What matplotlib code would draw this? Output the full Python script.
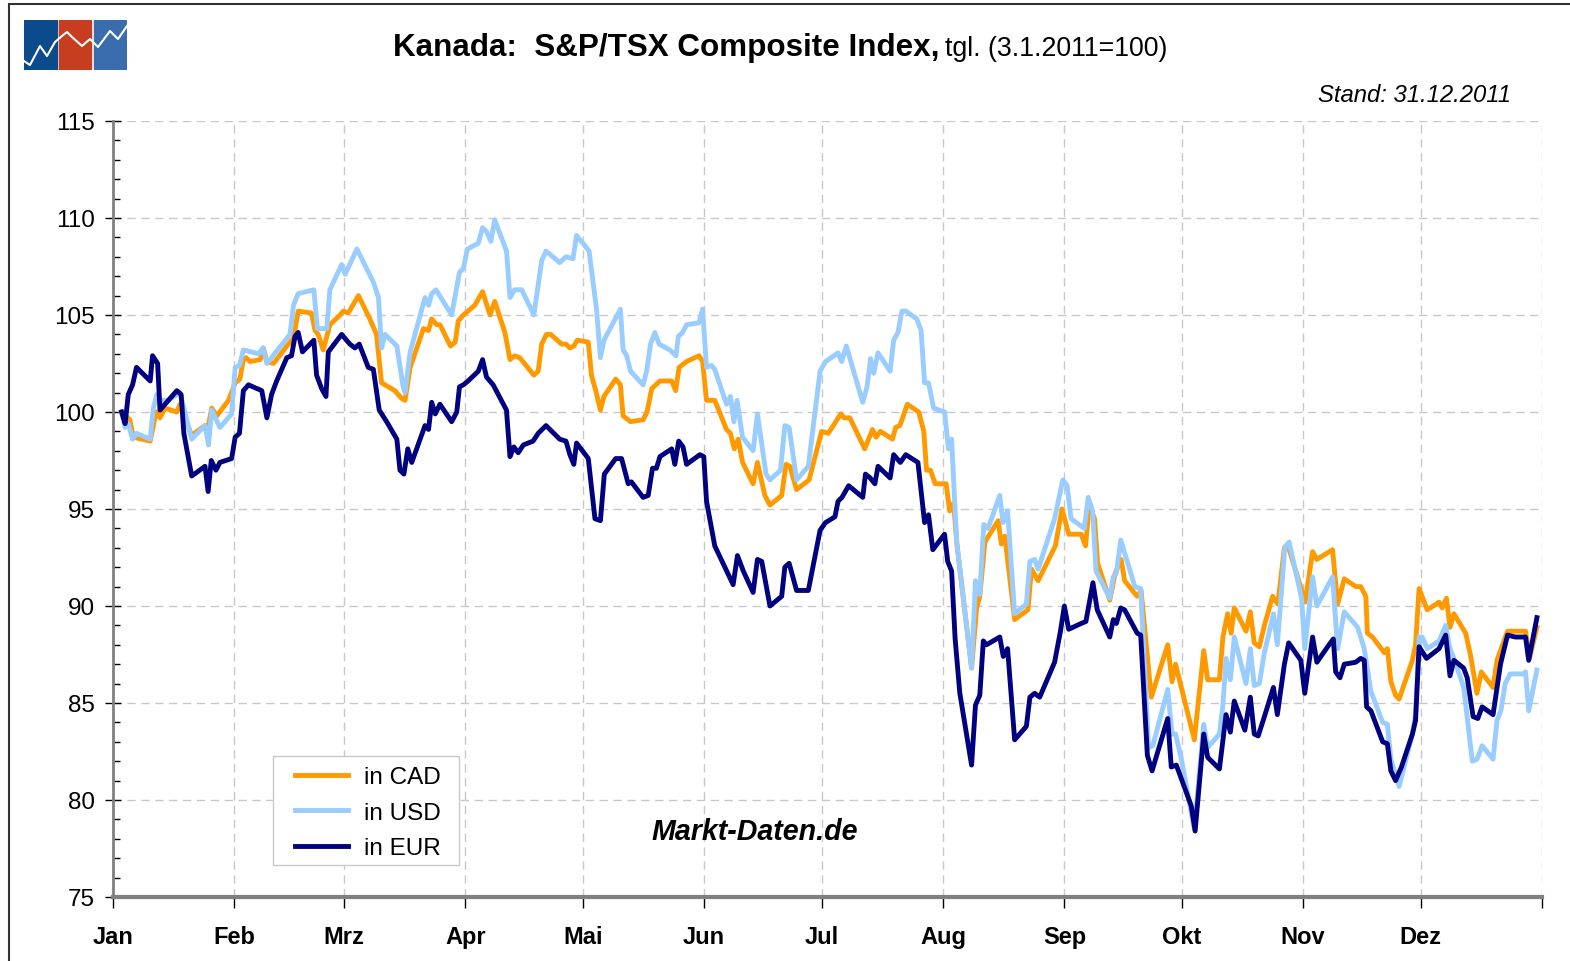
import matplotlib
matplotlib.use('Agg')
import matplotlib.pyplot as plt
from matplotlib.patches import Rectangle
from matplotlib.ticker import MultipleLocator

plt.rcParams['font.family'] = ['Liberation Sans', 'DejaVu Sans']

# Monate (Tag im Jahr, an dem der Monat beginnt)
monat_start = [0, 31, 59, 90, 120, 151, 181, 212, 243, 273, 304, 334, 365]
monat_namen = ['Jan', 'Feb', 'Mrz', 'Apr', 'Mai', 'Jun', 'Jul', 'Aug', 'Sep', 'Okt', 'Nov', 'Dez']

# S&P/TSX in CAD (Tag im Jahr, Index 3.1.2011=100)
cad_tag = [2.2, 4.3, 5.2, 9.5, 11.0, 12.0, 13.3, 16.3, 17.1, 18.1, 20.1, 23.5, 24.2, 25.2, 26.5, 29.5,
           31.2, 32.4, 33.3, 34.0, 35.0, 37.6, 38.4, 39.3, 41.0, 44.4, 46.1, 47.3, 50.7, 51.6, 52.4,
           53.7, 55.4, 58.0, 58.8, 60.1, 62.7, 65.6, 67.3, 68.6, 72.0, 73.7, 74.6, 75.9, 79.3, 80.6,
           81.4, 82.7, 83.5, 86.2, 87.4, 88.2, 89.5, 90.7, 92.4, 94.4, 96.3, 97.5, 100.1, 101.4, 102.6,
           103.9, 107.5, 108.6, 109.5, 110.7, 111.8, 114.6, 115.7, 116.7, 117.7, 118.6, 121.4, 122.2,
           123.3, 124.5, 125.4, 128.4, 129.6, 130.3, 132.2, 135.4, 136.4, 137.6, 139.7, 142.7, 143.7,
           144.6, 146.5, 149.7, 150.6, 151.6, 153.7, 156.7, 157.7, 158.7, 159.7, 160.8, 163.5, 164.6,
           166.5, 167.8, 170.8, 171.9, 172.9, 174.6, 177.8, 181.0, 182.7, 185.9, 186.7, 188.2, 192.0,
           194.0, 194.9, 196.0, 199.1, 199.9, 201.0, 202.9, 205.8, 207.1, 207.8, 208.8, 210.0, 212.8,
           213.7, 214.7, 215.6, 219.3, 220.6, 221.4, 222.7, 226.1, 226.9, 227.8, 230.3, 233.7, 234.6,
           236.3, 240.7, 242.4, 244.1, 247.3, 248.4, 249.4, 250.7, 251.5, 254.6, 256.0, 257.5, 258.4,
           261.6, 262.6, 265.2, 269.4, 270.5, 271.4, 276.2, 278.6, 279.6, 282.6, 283.5, 284.7, 285.6,
           286.4, 289.4, 290.5, 291.5, 292.8, 294.1, 296.2, 297.5, 299.2, 300.0, 303.0, 304.5, 306.4,
           307.5, 311.5, 312.8, 314.5, 317.4, 318.7, 320.0, 320.4, 321.7, 324.7, 325.5, 326.4, 327.6,
           328.5, 331.9, 332.7, 333.6, 335.7, 338.7, 339.5, 340.6, 341.5, 342.5, 345.5, 346.7, 348.4,
           349.5, 352.5, 353.5, 356.2, 360.8, 361.8, 363.7]
cad_wert = [100.0, 99.6, 98.7, 98.5, 100.0, 99.7, 100.2, 100.0, 100.4, 99.8, 98.8, 99.3, 99.1, 100.2, 99.8, 100.6,
            101.5, 101.7, 102.7, 102.8, 102.6, 102.7, 103.3, 102.6, 102.5, 103.4, 103.8, 105.2, 105.1, 104.2, 104.0,
            103.2, 104.5, 105.0, 105.2, 105.1, 106.0, 104.8, 104.0, 101.5, 101.1, 100.7, 100.6, 102.3, 104.3, 104.2,
            104.8, 104.5, 104.5, 103.4, 103.6, 104.7, 105.0, 105.2, 105.5, 106.2, 105.0, 105.7, 104.1, 102.7, 102.9,
            102.8, 101.9, 102.1, 103.5, 104.0, 104.0, 103.5, 103.5, 103.3, 103.4, 103.7, 103.6, 101.9,
            101.1, 100.1, 100.8, 101.7, 101.4, 99.8, 99.5, 99.6, 100.0, 101.2, 101.6, 101.6, 101.1,
            102.3, 102.6, 102.9, 102.6, 100.6, 100.6, 99.1, 98.9, 98.1, 98.6, 97.4, 96.3, 97.4,
            95.7, 95.2, 95.7, 97.3, 97.2, 96.0, 96.5, 99.0, 98.9, 99.9, 99.7, 99.7, 98.1,
            99.1, 98.7, 99.0, 98.6, 99.2, 99.3, 100.4, 100.0, 99.0, 97.0, 97.0, 96.3, 96.3,
            94.9, 95.3, 93.1, 86.8, 89.9, 90.5, 93.3, 94.4, 93.2, 93.6, 89.3, 89.8, 91.9,
            91.3, 93.1, 95.0, 93.7, 93.7, 93.1, 95.2, 94.5, 92.2, 90.3, 91.7, 92.4, 91.3,
            90.5, 90.8, 85.3, 88.0, 86.1, 87.0, 83.1, 87.7, 86.2, 86.2, 88.4, 89.6, 88.6,
            89.9, 88.7, 89.7, 88.1, 87.9, 89.0, 90.5, 90.1, 93.0, 93.2, 91.2, 90.2, 92.8,
            92.4, 92.9, 90.1, 91.4, 91.0, 91.0, 90.5, 88.6, 88.4, 87.6, 87.8, 86.1, 85.4,
            85.2, 87.2, 88.0, 90.9, 89.8, 90.2, 89.9, 90.4, 88.9, 89.6, 88.6, 87.5, 85.5,
            86.6, 85.8, 87.2, 88.7, 88.7, 87.3, 88.9]

# S&P/TSX in USD
usd_tag = [2.2, 3.1, 3.9, 5.0, 6.0, 9.5, 10.3, 11.2, 12.2, 14.1, 17.1, 18.1, 20.1, 23.5, 24.4, 25.2, 27.3,
           30.3, 31.2, 32.3, 33.3, 37.2, 38.3, 39.3, 45.2, 46.1, 47.3, 51.3, 52.2, 54.6, 55.4, 58.4,
           59.3, 62.3, 66.5, 67.8, 68.6, 69.5, 72.5, 74.1, 74.6, 75.9, 79.7, 80.6, 81.4, 82.5, 86.5,
           88.5, 89.5, 90.5, 93.3, 94.4, 95.4, 96.5, 97.5, 100.5, 101.4, 102.6, 104.4, 107.5, 109.5,
           110.6, 114.1, 115.7, 117.5, 118.4, 121.6, 123.5, 124.5, 125.4, 129.6, 130.3, 131.2, 132.2,
           135.4, 136.3, 137.3, 138.4, 139.5, 142.2, 143.8, 144.4, 145.5, 146.5, 149.7, 150.6, 151.6,
           152.9, 153.7, 156.7, 157.7, 158.6, 159.4, 160.8, 163.5, 164.6, 166.8, 167.8, 170.5, 171.6,
           172.7, 174.6, 177.6, 180.6, 182.0, 185.2, 186.1, 187.3, 191.5, 192.6, 193.5, 194.3, 195.4,
           198.5, 199.4, 200.5, 201.5, 202.5, 205.3, 206.4, 207.3, 208.3, 209.6, 212.4, 213.4, 214.2,
           215.5, 219.3, 220.3, 221.4, 222.4, 223.5, 226.5, 227.3, 228.5, 230.3, 233.3, 234.2, 235.4,
           236.3, 240.5, 242.6, 243.7, 244.7, 248.1, 249.1, 250.2, 251.1, 254.6, 255.5, 256.3, 257.4,
           261.0, 262.5, 264.5, 265.6, 269.4, 270.5, 271.4, 272.8, 276.2, 278.6, 279.6, 282.6, 283.5,
           284.3, 285.4, 286.4, 289.4, 290.5, 291.5, 292.8, 294.1, 296.4, 297.4, 299.3, 300.4, 303.6,
           304.4, 306.4, 307.5, 311.5, 312.8, 314.5, 317.9, 319.6, 321.3, 324.3, 325.5, 326.4, 328.5,
           331.9, 332.7, 333.6, 334.4, 335.7, 338.7, 340.4, 341.5, 342.5, 345.0, 347.2, 348.4, 349.7,
           352.5, 353.5, 354.5, 355.6, 356.9, 360.3, 360.8, 361.6, 363.7]
usd_wert = [100.0, 99.2, 99.4, 98.6, 98.9, 98.6, 100.2, 100.9, 100.6, 100.6, 101.0, 100.2, 98.6, 99.3, 98.3, 100.1, 99.2,
            99.9, 102.3, 102.4, 103.2, 103.0, 103.3, 102.5, 104.0, 105.5, 106.1, 106.3, 104.3, 104.3, 106.3, 107.6,
            107.1, 108.4, 106.7, 105.9, 103.3, 104.0, 103.4, 101.3, 101.0, 103.1, 105.9, 105.5, 106.1, 106.3, 105.0,
            107.2, 107.4, 108.4, 108.7, 109.5, 109.3, 108.8, 109.9, 108.3, 105.9, 106.3, 106.3, 105.0, 107.8,
            108.3, 107.7, 108.0, 107.9, 109.1, 108.3, 105.3, 102.8, 103.7, 105.3, 103.2, 102.9, 102.1,
            101.4, 102.1, 103.5, 104.1, 103.5, 103.2, 102.9, 103.9, 104.1, 104.5, 104.6, 105.3, 102.3,
            102.4, 102.2, 100.4, 100.8, 99.5, 100.6, 98.7, 98.0, 99.9, 96.8, 96.5, 97.0, 99.3,
            99.2, 96.5, 97.2, 102.1, 102.6, 103.05, 102.6, 103.4, 100.5, 101.3, 102.75, 102.0, 103.05,
            102.1, 103.7, 104.1, 105.2, 105.2, 104.8, 104.2, 101.5, 101.5, 100.2, 100.0, 98.1, 98.6,
            93.3, 86.8, 91.3, 90.6, 94.2, 94.0, 95.7, 94.3, 94.9, 89.6, 90.1, 92.3, 92.4,
            91.9, 94.5, 96.5, 96.2, 94.5, 94.0, 95.6, 94.9, 91.8, 90.4, 91.5, 91.7, 93.4,
            91.0, 90.9, 82.7, 82.8, 85.7, 83.4, 83.4, 82.2, 78.5, 83.9, 82.7, 83.4, 84.9,
            87.3, 86.2, 88.4, 86.0, 87.8, 85.9, 86.0, 87.6, 89.6, 88.0, 93.0, 93.3, 90.4,
            87.8, 91.5, 90.0, 91.5, 87.8, 89.7, 88.9, 87.8, 85.6, 84.0, 83.9, 82.1, 80.7,
            83.4, 84.4, 88.4, 88.4, 87.8, 88.2, 89.0, 87.8, 87.3, 85.8, 82.0, 82.1, 82.8,
            82.1, 84.1, 84.6, 86.0, 86.5, 86.5, 86.6, 84.6, 86.7]

# S&P/TSX in EUR
eur_tag = [2.2, 3.1, 3.9, 5.0, 6.0, 9.5, 10.1, 11.4, 12.0, 16.3, 17.4, 18.1, 20.1, 23.5, 24.3, 25.1, 26.3,
           27.3, 30.3, 31.2, 32.3, 33.3, 34.6, 38.0, 39.3, 40.5, 41.8, 44.4, 45.6, 46.5, 47.3, 48.4,
           51.3, 52.0, 53.3, 54.4, 55.0, 58.4, 60.5, 61.8, 62.9, 65.2, 66.5, 68.0, 69.9, 72.5, 73.3,
           74.3, 75.3, 76.3, 79.7, 80.6, 81.4, 82.3, 83.5, 86.5, 87.8, 88.5, 89.5, 90.7, 93.3, 94.4,
           95.4, 97.1, 100.5, 101.4, 102.4, 103.5, 104.8, 107.3, 108.6, 110.6, 114.1, 115.7, 116.7,
           117.7, 118.4, 121.4, 123.1, 124.5, 125.5, 128.4, 129.9, 131.6, 132.4, 135.4, 136.7, 137.8,
           138.8, 139.7, 142.7, 143.5, 144.5, 145.6, 146.5, 149.9, 150.9, 151.6, 153.7, 158.4, 159.5,
           161.0, 163.5, 164.6, 165.7, 167.8, 170.8, 171.6, 172.7, 174.6, 177.6, 180.6, 182.0, 184.4,
           185.2, 186.2, 187.9, 191.5, 192.2, 193.4, 194.6, 195.4, 198.5, 199.4, 201.1, 202.5, 205.6,
           207.3, 208.3, 209.4, 212.4, 213.2, 214.2, 215.1, 216.3, 219.3, 220.3, 221.4, 222.3, 223.1,
           226.5, 227.4, 228.5, 230.3, 233.3, 234.2, 235.4, 236.7, 240.5, 242.0, 243.0, 244.1, 247.3,
           248.5, 250.3, 251.4, 254.6, 255.5, 256.3, 257.4, 258.4, 261.6, 262.5, 264.2, 265.4, 269.4,
           270.3, 271.6, 275.4, 276.4, 278.6, 279.6, 282.6, 283.5, 284.3, 285.4, 286.4, 289.1, 290.5,
           291.5, 292.5, 294.1, 296.4, 297.4, 299.2, 300.3, 303.4, 304.4, 306.4, 307.5, 310.6, 311.7,
           312.3, 313.4, 314.5, 317.4, 318.7, 319.6, 320.2, 321.3, 324.3, 325.5, 326.4, 327.6, 329.1,
           331.9, 332.7, 333.6, 335.5, 338.7, 340.4, 341.5, 342.5, 345.0, 345.9, 347.4, 348.6, 349.7,
           352.5, 354.4, 356.2, 358.2, 360.8, 361.6, 363.7]
eur_wert = [100.0, 99.4, 100.9, 101.4, 102.3, 101.6, 102.9, 102.5, 100.1, 101.1, 100.9, 98.9, 96.7, 97.2, 95.9, 97.5, 97.0,
            97.4, 97.6, 98.7, 98.9, 101.1, 101.4, 101.1, 99.7, 100.9, 101.6, 102.8, 102.9, 103.9, 104.1, 103.1,
            103.7, 101.9, 101.2, 100.8, 103.1, 104.0, 103.5, 103.3, 103.5, 102.3, 102.2, 100.1, 99.5, 98.6, 97.0,
            96.8, 98.1, 97.4, 99.3, 99.1, 100.5, 99.9, 100.4, 99.5, 100.0, 101.3, 101.4, 101.6, 102.1, 102.7,
            101.8, 101.4, 100.1, 97.7, 98.2, 97.9, 98.3, 98.5, 98.9, 99.3, 98.6, 98.5, 97.8,
            97.3, 98.4, 97.6, 94.5, 94.4, 96.8, 97.6, 97.6, 96.3, 96.4, 95.6, 95.7, 97.1,
            97.1, 97.7, 98.1, 97.3, 98.5, 98.2, 97.3, 97.8, 97.7, 95.4, 93.1, 91.1, 92.6,
            91.8, 90.7, 92.4, 92.3, 90.0, 90.5, 92.0, 92.2, 90.8, 90.8, 93.9, 94.3, 94.6,
            95.4, 95.6, 96.2, 95.6, 96.8, 96.6, 96.3, 97.2, 96.6, 97.8, 97.4, 97.8, 97.4,
            94.3, 94.7, 92.9, 93.7, 92.3, 91.8, 88.3, 85.5, 81.8, 84.9, 85.4, 88.2, 88.0,
            88.4, 87.4, 87.8, 83.1, 83.8, 85.3, 85.5, 85.3, 87.1, 88.7, 90.0, 88.8, 89.1,
            89.2, 91.2, 89.8, 88.4, 89.3, 89.1, 89.9, 89.8, 88.6, 88.5, 82.3, 81.5, 84.2,
            81.7, 81.8, 79.7, 78.4, 83.4, 82.2, 81.6, 83.1, 84.4, 83.5, 85.1, 83.6, 85.3,
            83.4, 83.3, 84.3, 85.8, 84.4, 87.0, 88.1, 87.2, 85.5, 88.4, 87.1, 88.0, 88.3,
            86.6, 86.3, 87.0, 87.1, 87.3, 87.2, 84.8, 84.6, 83.0, 82.9, 81.5, 81.0, 81.7,
            83.4, 84.1, 87.9, 87.3, 87.8, 88.5, 86.4, 87.2, 86.8, 86.3, 84.3, 84.2, 84.8,
            84.4, 87.0, 88.5, 88.4, 88.4, 87.2, 89.4]

W, H = 1570, 962
fig = plt.figure(figsize=(W / 100, H / 100), dpi=100)
fig.patch.set_facecolor('white')

# Rahmen um das ganze Bild
fig.add_artist(Rectangle((9 / W, -0.05), 1.2, 1 - 5 / H + 0.05, transform=fig.transFigure,
                         fill=False, edgecolor='#333333', linewidth=1.5))

ax = fig.add_axes([113 / W, 1 - 898 / H, (1542 - 113) / W, (898 - 122) / H])

ax.plot(cad_tag, cad_wert, color='#FF9900', linewidth=3.5, label='in CAD')
ax.plot(usd_tag, usd_wert, color='#99CCFF', linewidth=3.5, label='in USD')
ax.plot(eur_tag, eur_wert, color='#000080', linewidth=3.5, label='in EUR')

ax.set_xlim(0, 365)
ax.set_ylim(75, 115)
ax.set_xticks(monat_start)
ax.set_xticklabels(monat_namen + [''], fontsize=17, fontweight='bold')
ax.yaxis.set_major_locator(MultipleLocator(5))
ax.yaxis.set_minor_locator(MultipleLocator(1))
ax.tick_params(axis='y', which='major', direction='inout', length=12, width=1, labelsize=17.5, pad=7)
ax.tick_params(axis='y', which='minor', direction='in', length=5, width=1)
ax.tick_params(axis='x', which='major', direction='out', length=8, width=1, pad=12)

ax.grid(True, which='major', color='#c8c8c8', linestyle=(0, (6, 4)), linewidth=1)
ax.set_axisbelow(True)
for s in ['top', 'right']:
    ax.spines[s].set_visible(False)
ax.spines['left'].set_color('#808080')
ax.spines['left'].set_linewidth(2)
ax.spines['bottom'].set_color('#808080')
ax.spines['bottom'].set_linewidth(3)

# Legende: Kasten als eigenes Rechteck, Eintraege ohne Rahmen darueber
kasten = Rectangle((273 / W, 1 - 866 / H), (459 - 273) / W, (866 - 757) / H,
                   transform=fig.transFigure, facecolor='white', edgecolor='#c8c8c8',
                   linewidth=1, zorder=5, clip_on=False)
ax.add_patch(kasten)
leg = ax.legend(loc='upper left', bbox_to_anchor=(295 / W, 1 - 767 / H), bbox_transform=fig.transFigure,
                fontsize=17.5, frameon=False, handlelength=2.2, handletextpad=0.65,
                labelspacing=0.56, borderpad=0, borderaxespad=0)
leg.set_zorder(6)

# Titel
fig.text(393 / W, 1 - 56 / H, 'Kanada:  S&P/TSX Composite Index,', fontsize=22.6, fontweight='bold',
         ha='left', va='baseline')
fig.text(945 / W, 1 - 56 / H, 'tgl. (3.1.2011=100)', fontsize=19.3, ha='left', va='baseline')
fig.text(1511 / W, 1 - 95 / H, 'Stand: 31.12.2011', fontsize=17.2, style='italic', ha='right', va='center')
fig.text(755 / W, 1 - 832 / H, 'Markt-Daten.de', fontsize=20.6, fontweight='bold', style='italic',
         ha='center', va='center')

# Logo oben links
lx = fig.add_axes([24 / W, 1 - 71 / H, 103 / W, 50 / H])
lx.set_xlim(24, 127)
lx.set_ylim(71, 21)
lx.axis('off')
for x0, x1, farbe in [(24, 57, '#0B4A8B'), (59, 91, '#C63D1F'), (94, 127, '#3A6DAE')]:
    lx.add_patch(Rectangle((x0, 21), x1 - x0, 50, color=farbe))
lx.plot([24, 30, 40, 47, 55, 62, 67, 72, 82, 90, 98, 110, 118, 127],
        [62, 66, 47, 57, 43, 37, 33, 38, 47, 40, 48, 32, 40, 27], color='white', linewidth=1.5)

fig.savefig('out.png', dpi=100, facecolor='white')
